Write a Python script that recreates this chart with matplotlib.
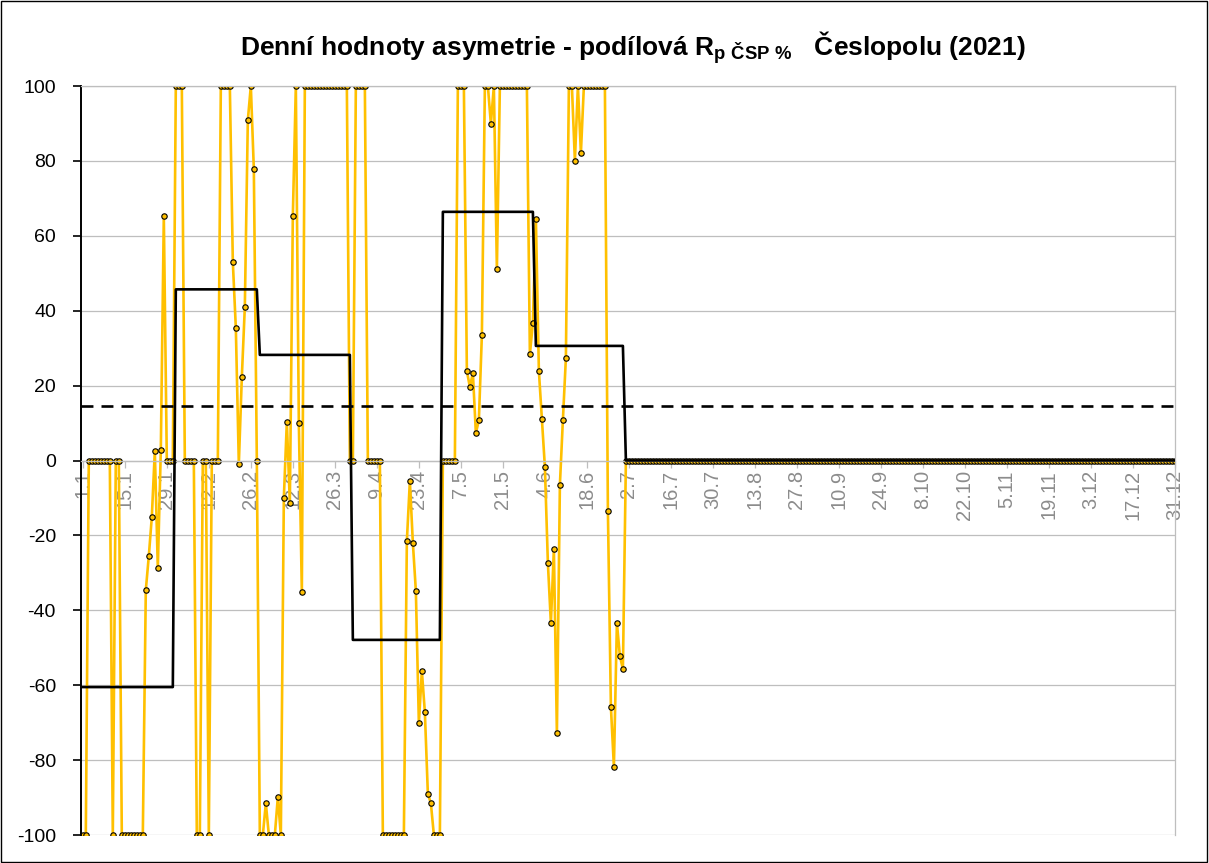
import numpy as np
import matplotlib
matplotlib.use('Agg')
import matplotlib.pyplot as plt

plt.rcParams['font.family'] = ['Liberation Sans', 'DejaVu Sans']
plt.rcParams['mathtext.fontset'] = 'custom'
plt.rcParams['mathtext.rm'] = 'Liberation Sans'
plt.rcParams['mathtext.bf'] = 'Liberation Sans:bold'
plt.rcParams['lines.scale_dashes'] = False
plt.rcParams['axes.unicode_minus'] = False

# Daily values of the asymmetry (%).
jan = [-100, -100, 0, 0, 0, 0, 0, 0, 0, 0, -100, 0, 0, -100, -100, -100, -100, -100,
       -100, -100, -100, -34.6, -25.5, -15.1, 2.5, -28.7, 2.8, 65.3, 0, 0, 0]
feb = [100, 100, 100, 0, 0, 0, 0, -100, -100, 0, 0, -100, 0, 0, 0, 100, 100, 100,
       100, 53, 35.4, -0.9, 22.3, 41, 90.9, 100, 77.8, 0]
mar = [-100, -100, -91.5, -100, -100, -100, -89.9, -100, -10, 10.3, -11.3, 65.3, 100,
       10, -35.1, 100, 100, 100, 100, 100, 100, 100, 100, 100, 100, 100, 100, 100, 100,
       100, 0]
apr = [0, 100, 100, 100, 100, 0, 0, 0, 0, 0, -100, -100, -100, -100, -100, -100, -100,
       -100, -21.5, -5.5, -22, -34.8, -70.1, -56.2, -67.2, -89, -91.5, -100, -100, -100]
may = [0, 0, 0, 0, 0, 100, 100, 100, 23.9, 19.6, 23.4, 7.3, 10.8, 33.5, 100, 100, 89.9,
       100, 51.1, 100, 100, 100, 100, 100, 100, 100, 100, 100, 100, 28.4, 36.7]
jun = [64.5, 23.9, 11.1, -1.7, -27.4, -43.4, -23.6, -72.8, -6.5, 10.8, 27.4, 100, 100,
       80, 100, 82.1, 100, 100, 100, 100, 100, 100, 100, 100, -13.5, -65.8, -81.8,
       -43.4, -52.2, -55.7]
jul_dec = [0] * 184

# Monthly values (black step line) and the yearly value (dashed line).
monthly = [-60.5, 45.7, 28.2, -47.9, 66.4, 30.6, 0, 0, 0, 0, 0, 0]
month_days = [31, 28, 31, 30, 31, 30, 31, 31, 30, 31, 30, 31]
year_value = 14.6

tick_days = [1, 15, 29, 43, 57, 71, 85, 99, 113, 127, 141, 155, 169, 183, 197, 211,
             225, 239, 253, 267, 281, 295, 309, 323, 337, 351, 365]
tick_labels = ['1.1', '15.1', '29.1', '12.2', '26.2', '12.3', '26.3', '9.4', '23.4',
               '7.5', '21.5', '4.6', '18.6', '2.7', '16.7', '30.7', '13.8', '27.8',
               '10.9', '24.9', '8.10', '22.10', '5.11', '19.11', '3.12', '17.12', '31.12']

daily = np.array(jan + feb + mar + apr + may + jun + jul_dec, dtype=float)
days = np.arange(1, len(daily) + 1)
monthly_line = np.repeat(monthly, month_days)

W, H = 1209, 863
fig = plt.figure(figsize=(W / 100, H / 100), dpi=100)
ax = fig.add_axes([81 / W, 28 / H, (1175 - 81) / W, (835 - 86) / H])

grid_c = '#BEBEBE'
ax.set_axisbelow(True)
ax.grid(axis='y', color=grid_c, lw=0.9)

ax.plot(days, daily, color='#FFC000', lw=1.9, marker='o', ms=3.9,
        mfc='#FFC000', mec='black', mew=0.8, zorder=2)
ax.plot(days, monthly_line, color='black', lw=1.9, zorder=3)
ax.axhline(year_value, color='black', lw=1.9, dashes=(8.6, 5.8), zorder=3)

ax.spines['bottom'].set_position(('data', 0))
for s in ['bottom', 'top', 'right']:
    ax.spines[s].set_color(grid_c)
    ax.spines[s].set_linewidth(0.9)
ax.spines['left'].set_linewidth(1.4)

ax.set_xlim(0.4, 365)
ax.set_ylim(-100, 100)
ax.set_yticks(np.arange(-100, 101, 20))
ax.set_xticks(tick_days)
ax.set_xticklabels(tick_labels, rotation=90, color='#8C8C8C', fontsize=14.5)
ax.tick_params(axis='x', colors=grid_c, labelcolor='#8C8C8C', length=5, width=0.9, pad=2)
ax.tick_params(axis='y', labelsize=14, length=6, width=1.2, pad=12)

fig.text(633 / W, 1 - 48 / H,
         r'Denní hodnoty asymetrie - podílová R$_{\mathbf{p\ ČSP\ \%}}$   Česlopolu (2021)',
         ha='center', va='center', fontsize=19, fontweight='bold')

fig.patches.append(plt.Rectangle((0.0005, 0.0007), 0.998, 0.998, transform=fig.transFigure,
                                 fill=False, edgecolor='black', lw=1))

fig.savefig('out.png', dpi=100)
